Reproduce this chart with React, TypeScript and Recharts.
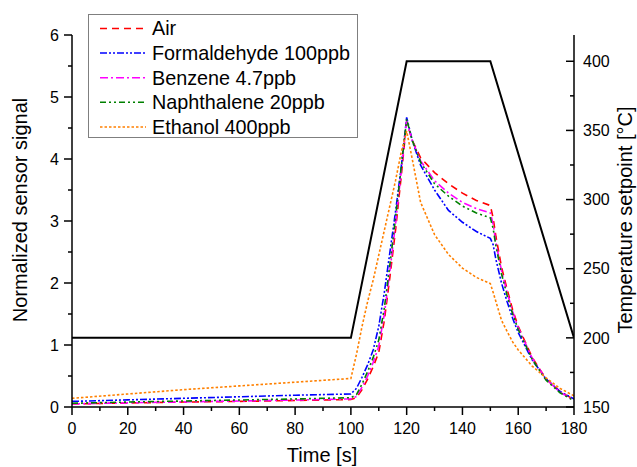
import React from 'react';
import { LineChart, Line, XAxis, YAxis, Legend, Label } from 'recharts';

// time [s] for the sensor traces
const time = [0, 20, 40, 60, 80, 100, 102, 104, 106, 108, 110, 112, 114, 116, 118, 120, 122, 125, 130, 135, 140, 145, 150, 151, 152, 154, 156, 158, 160, 165, 170, 175, 180];

const air = [0.05, 0.065, 0.08, 0.09, 0.105, 0.12, 0.15, 0.28, 0.45, 0.65, 0.88, 1.4, 2.1, 2.85, 3.7, 4.6, 4.3, 4.02, 3.78, 3.6, 3.45, 3.33, 3.25, 3.05, 2.75, 2.26, 1.9, 1.57, 1.3, 0.8, 0.45, 0.25, 0.12];
const formaldehyde = [0.09, 0.115, 0.14, 0.165, 0.19, 0.21, 0.3, 0.48, 0.68, 0.92, 1.3, 1.85, 2.5, 3.15, 3.85, 4.67, 4.3, 3.9, 3.5, 3.17, 2.98, 2.83, 2.72, 2.62, 2.38, 2.0, 1.7, 1.43, 1.2, 0.76, 0.45, 0.25, 0.13];
const benzene = [0.05, 0.067, 0.083, 0.097, 0.113, 0.13, 0.17, 0.32, 0.5, 0.72, 0.98, 1.5, 2.2, 2.95, 3.78, 4.62, 4.3, 3.97, 3.65, 3.45, 3.3, 3.2, 3.13, 2.95, 2.65, 2.2, 1.85, 1.54, 1.28, 0.79, 0.45, 0.24, 0.11];
const naphthalene = [0.06, 0.08, 0.097, 0.113, 0.13, 0.15, 0.2, 0.37, 0.57, 0.8, 1.08, 1.6, 2.3, 3.05, 3.85, 4.64, 4.3, 3.95, 3.6, 3.4, 3.24, 3.13, 3.05, 2.88, 2.6, 2.15, 1.8, 1.5, 1.25, 0.77, 0.43, 0.23, 0.1];
const ethanol = [0.14, 0.21, 0.28, 0.34, 0.4, 0.46, 0.85, 1.3, 1.7, 2.05, 2.45, 2.85, 3.25, 3.65, 4.1, 4.45, 4.0, 3.3, 2.78, 2.46, 2.24, 2.09, 1.99, 1.85, 1.7, 1.4, 1.22, 1.05, 0.92, 0.66, 0.47, 0.3, 0.18];

// temperature setpoint profile
const tempTime = [0, 100, 120, 150, 180];
const tempValue = [200, 200, 400, 400, 200];

const xTicks = [0, 10, 20, 30, 40, 50, 60, 70, 80, 90, 100, 110, 120, 130, 140, 150, 160, 170, 180];
const leftTicks = [0, 0.5, 1, 1.5, 2, 2.5, 3, 3.5, 4, 4.5, 5, 5.5, 6];
const rightTicks = [150, 175, 200, 225, 250, 275, 300, 325, 350, 375, 400];

const FONT = '"Liberation Sans", Arial, sans-serif';

const series = [
  { key: 'air', name: 'Air', color: '#ff0000', dash: '7 5', values: air },
  { key: 'formaldehyde', name: 'Formaldehyde 100ppb', color: '#0000ff', dash: '7 2 2 2 2 2', values: formaldehyde },
  { key: 'benzene', name: 'Benzene 4.7ppb', color: '#ff00ff', dash: '8 3 2 3', values: benzene },
  { key: 'naphthalene', name: 'Naphthalene 20ppb', color: '#008000', dash: '6 3 2 3 2 3', values: naphthalene },
  { key: 'ethanol', name: 'Ethanol 400ppb', color: '#ff8000', dash: '2.5 2', values: ethanol },
];

const data = time.map((t, i) => {
  const row: any = { t };
  series.forEach((s) => (row[s.key] = s.values[i]));
  return row;
});

const tempData = tempTime.map((t, i) => ({ t, temp: tempValue[i] }));

const LeftTick = ({ x, y, payload }: any) => {
  const major = Number.isInteger(payload.value);
  return (
    <g>
      <line x1={x - (major ? 8 : 4)} x2={x} y1={y} y2={y} stroke="#000" strokeWidth={1.5} />
      {major && (
        <text x={x - 13} y={y} dy="0.36em" textAnchor="end" fontSize={16} fontFamily={FONT} fill="#000">
          {payload.value}
        </text>
      )}
    </g>
  );
};

const BottomTick = ({ x, y, payload }: any) => {
  const major = payload.value % 20 === 0;
  return (
    <g>
      <line x1={x} x2={x} y1={y} y2={y + (major ? 8 : 4)} stroke="#000" strokeWidth={1.5} />
      {major && (
        <text x={x} y={y + 26.5} textAnchor="middle" fontSize={16} fontFamily={FONT} fill="#000">
          {payload.value}
        </text>
      )}
    </g>
  );
};

const RightTick = ({ x, y, payload }: any) => {
  const major = payload.value % 50 === 0;
  return (
    <g>
      <line x1={x - (major ? 8 : 4)} x2={x} y1={y} y2={y} stroke="#000" strokeWidth={1.5} />
      {major && (
        <text x={x + 9} y={y} dy="0.36em" textAnchor="start" fontSize={16} fontFamily={FONT} fill="#000">
          {payload.value}
        </text>
      )}
    </g>
  );
};

// axis title drawn at a fixed spot (own prop names so Label does not override them)
const AxisTitle = ({ title, px, py, rot }: any) => (
  <text
    x={px}
    y={py}
    textAnchor="middle"
    fontSize={20}
    fontFamily={FONT}
    fill="#000"
    transform={rot ? `rotate(${rot}, ${px}, ${py})` : undefined}
  >
    {title}
  </text>
);

const LegendBox = () => (
  <div style={{ width: 270, height: 124, border: '1px solid #7f7f7f', boxSizing: 'border-box', background: '#fff' }}>
    <svg width={268} height={122} style={{ display: 'block' }}>
      {series.map((s, i) => {
        const cy = 13.5 + i * 24.6;
        return (
          <g key={s.key}>
            <line x1={11} x2={57} y1={cy} y2={cy} stroke={s.color} strokeWidth={1.5} strokeDasharray={s.dash} />
            <text x={63} y={cy} dy="0.35em" fontSize={19.8} fontFamily={FONT} fill="#000">
              {s.name}
            </text>
          </g>
        );
      })}
    </svg>
  </div>
);

export default function App() {
  return (
    <div style={{ position: 'absolute', left: 0, top: 0, width: 637, height: 467, background: '#fff' }}>
      <LineChart width={637} height={467} data={data} margin={{ top: 35, right: 0, bottom: 0, left: 0 }}>
        <XAxis
          dataKey="t"
          type="number"
          domain={[0, 180]}
          ticks={xTicks}
          interval={0}
          height={60}
          tickLine={false}
          tickSize={0}
          tickMargin={0}
          tick={<BottomTick />}
          axisLine={{ stroke: '#000', strokeWidth: 1.5 }}
          allowDataOverflow
        >
          <Label content={<AxisTitle title="Time [s]" px={322} py={462} />} />
        </XAxis>
        <YAxis
          yAxisId="left"
          orientation="left"
          type="number"
          domain={[0, 6]}
          ticks={leftTicks}
          interval={0}
          width={72}
          tickLine={false}
          tickSize={0}
          tickMargin={0}
          tick={<LeftTick />}
          axisLine={{ stroke: '#000', strokeWidth: 1.5 }}
          allowDataOverflow
        >
          <Label content={<AxisTitle title="Normalized sensor signal" px={27} py={210} rot={-90} />} />
        </YAxis>
        <YAxis
          yAxisId="right"
          orientation="right"
          type="number"
          domain={[150, 419]}
          ticks={rightTicks}
          interval={0}
          width={63}
          tickLine={false}
          tickSize={0}
          tickMargin={0}
          tick={<RightTick />}
          axisLine={{ stroke: '#000', strokeWidth: 1.5 }}
          allowDataOverflow
        >
          <Label content={<AxisTitle title="Temperature setpoint [°C]" px={632} py={220} rot={-90} />} />
        </YAxis>
        <Legend
          layout="vertical"
          align="center"
          verticalAlign="middle"
          width={270}
          height={124}
          wrapperStyle={{ left: 88, top: 14 }}
          content={<LegendBox />}
        />
        <Line
          yAxisId="right"
          data={tempData}
          dataKey="temp"
          type="linear"
          stroke="#000"
          strokeWidth={2}
          dot={false}
          legendType="none"
          isAnimationActive={false}
        />
        {series.map((s) => (
          <Line
            key={s.key}
            yAxisId="left"
            dataKey={s.key}
            name={s.name}
            type="linear"
            stroke={s.color}
            strokeWidth={1.6}
            strokeDasharray={s.dash}
            dot={false}
            isAnimationActive={false}
          />
        ))}
      </LineChart>
    </div>
  );
}
